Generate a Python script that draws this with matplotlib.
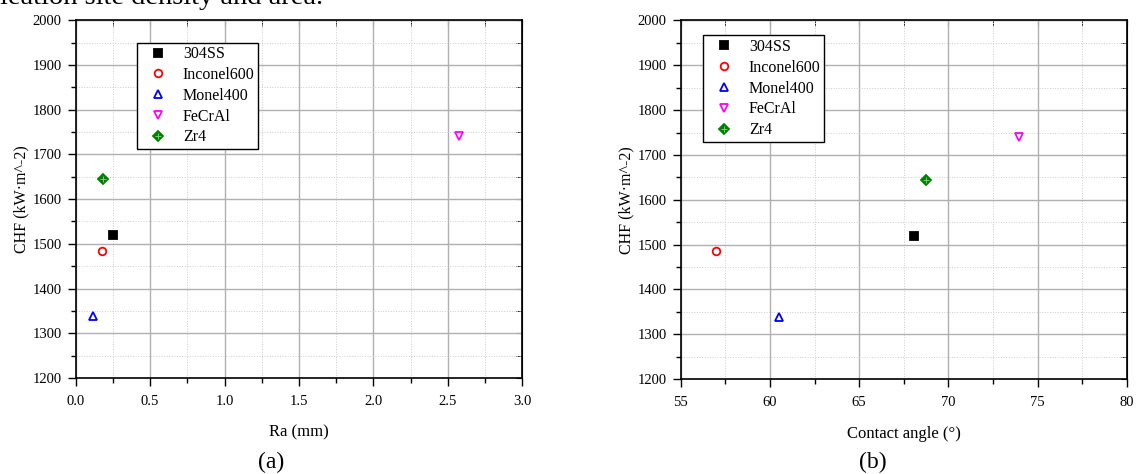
import matplotlib
matplotlib.use('Agg')
import matplotlib.pyplot as plt
from matplotlib.ticker import MultipleLocator
from matplotlib.legend_handler import HandlerTuple

plt.rcParams['font.family'] = ['Liberation Serif', 'DejaVu Serif']

materials = ['304SS', 'Inconel600', 'Monel400', 'FeCrAl', 'Zr4']
chf = [1520, 1485, 1338, 1740, 1645]
ra = [0.25, 0.175, 0.115, 2.575, 0.18]
contact_angle = [68.05, 57.0, 60.5, 73.95, 68.75]

styles = {
    '304SS': dict(marker='s', mfc='black', mec='black'),
    'Inconel600': dict(marker='o', mfc='none', mec='red'),
    'Monel400': dict(marker='^', mfc='none', mec='blue'),
    'FeCrAl': dict(marker='v', mfc='none', mec='magenta'),
    'Zr4': dict(marker='D', mfc='green', mec='green'),
}


def draw_panel(ax, xs, xlim, xmajor, xlabel, fmt, legend_pos):
    handles = []
    for name, x, y in zip(materials, xs, chf):
        st = styles[name]
        ms = 5.5 if st['marker'] != 'D' else 5
        h, = ax.plot([x], [y], linestyle='none', markersize=ms, markeredgewidth=1.3,
                     zorder=5, **st)
        if name == 'Zr4':
            h2, = ax.plot([x], [y], linestyle='none', marker='+', color='#8fd08f',
                          markersize=4, markeredgewidth=0.6, zorder=6)
            handles.append((h, h2))
        else:
            handles.append(h)
    ax.set_xlim(*xlim)
    ax.set_ylim(1200, 2000)
    ax.xaxis.set_major_locator(MultipleLocator(xmajor))
    ax.xaxis.set_minor_locator(MultipleLocator(xmajor / 2))
    ax.yaxis.set_major_locator(MultipleLocator(100))
    ax.yaxis.set_minor_locator(MultipleLocator(50))
    ax.xaxis.set_major_formatter(fmt)
    ax.grid(which='major', color='#b0b0b0', linewidth=1.0, linestyle='-')
    ax.grid(which='minor', color='#cccccc', linewidth=0.7, linestyle=':')
    ax.set_axisbelow(True)
    ax.tick_params(which='both', direction='out', labelsize=10.5, width=1.0, pad=6)
    ax.tick_params(axis='y', pad=4)
    ax.tick_params(which='major', length=6)
    ax.tick_params(which='minor', length=3.5)
    # inward ticks on the top and right frame
    sec_x = ax.secondary_xaxis('top')
    sec_x.xaxis.set_major_locator(MultipleLocator(xmajor))
    sec_x.xaxis.set_minor_locator(MultipleLocator(xmajor / 2))
    sec_x.tick_params(which='both', direction='in', labeltop=False, length=4)
    sec_y = ax.secondary_yaxis('right')
    sec_y.yaxis.set_major_locator(MultipleLocator(100))
    sec_y.yaxis.set_minor_locator(MultipleLocator(50))
    sec_y.tick_params(which='both', direction='in', labelright=False, length=4)
    for sp in ax.spines.values():
        sp.set_linewidth(1.2)
    ax.set_xlabel(xlabel, fontsize=12, labelpad=12)
    ax.set_ylabel('CHF (kW·m^-2)', fontsize=11.5, labelpad=2)
    leg = ax.legend(handles, materials, loc='upper left', bbox_to_anchor=legend_pos,
                    borderaxespad=0, fontsize=11.5, frameon=True, fancybox=False,
                    edgecolor='black', framealpha=1, handlelength=2.2,
                    handletextpad=0.45, borderpad=0.22, labelspacing=0.3,
                    handler_map={tuple: HandlerTuple(ndivide=1, pad=0)})
    leg.get_frame().set_linewidth(1.0)


fig = plt.figure(figsize=(11.39, 4.74), dpi=100)
ax1 = fig.add_axes([0.0665, 0.2025, 0.392, 0.755])
ax2 = fig.add_axes([0.5976, 0.2, 0.3918, 0.757])

draw_panel(ax1, ra, (0, 3.0), 0.5, 'Ra (mm)', '{x:.1f}', (0.137, 0.937))
draw_panel(ax2, contact_angle, (55, 80), 5, 'Contact angle (°)', '{x:.0f}', (0.05, 0.958))

fig.text(0.238, 0.012, '(a)', fontsize=17, ha='center', va='baseline')
fig.text(0.7665, 0.012, '(b)', fontsize=17, ha='center', va='baseline')
fig.text(0.284, 0.9926, 'nucleation site density and area.', fontsize=20.5, ha='right',
         va='baseline')

fig.savefig('out.png', dpi=100)
